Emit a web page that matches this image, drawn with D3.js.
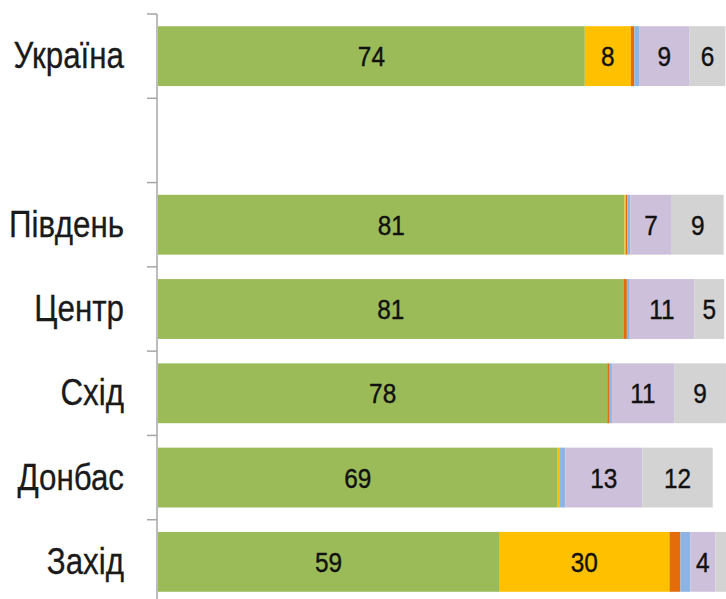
<!DOCTYPE html>
<html lang="uk">
<head>
<meta charset="utf-8">
<title>Регіони</title>
<script src="https://cdn.jsdelivr.net/npm/d3@7"></script>
<style>
  body { margin: 0; background: #fff; }
  text { font-family: "Liberation Sans", Arial, sans-serif; }
</style>
</head>
<body>
<div id="chart"></div>
<script>
// regions top to bottom ("" is the empty gap row)
var regions = ["Україна", "", "Південь", "Центр", "Схід", "Донбас", "Захід"];

// segment values per region, left to right
var green  = [74.1, 0, 81.0, 80.8, 78.0, 69.4, 59.2];
var yellow = [8.0,  0, 0.2,  0.0,  0.0,  0.4,  29.6];
var orange = [0.6,  0, 0.3,  0.6,  0.3,  0.0,  1.9];
var blue   = [0.8,  0, 0.5,  0.5,  0.5,  0.9,  1.7];
var lilac  = [8.8,  0, 7.2,  11.2, 10.8, 13.4, 4.4];
var grey   = [6.2,  0, 9.0,  5.2,  9.0,  12.2, 2.5];

var keys = ["green", "yellow", "orange", "blue", "lilac", "grey"];
var colors = ["#9bbb59", "#ffc000", "#e46c0a", "#8db4e2", "#ccc0da", "#d3d3d3"];

var w = 726, h = 599;

var rows = regions.map(function(r, i) {
  return {region: r, green: green[i], yellow: yellow[i], orange: orange[i],
          blue: blue[i], lilac: lilac[i], grey: grey[i]};
});

var x = d3.scaleLinear().domain([0, 100]).range([158, 734]);
var y = d3.scaleBand().domain(d3.range(regions.length))
  .range([14, 604]).paddingInner(0.29).paddingOuter(0.145);
var color = d3.scaleOrdinal().domain(keys).range(colors);

var svg = d3.select("#chart").append("svg")
  .attr("width", w).attr("height", h);

var stacked = d3.stack().keys(keys)(rows);

var layer = svg.selectAll("g.layer")
  .data(stacked)
  .enter().append("g")
  .attr("class", "layer")
  .attr("fill", function(d) { return color(d.key); });

layer.selectAll("rect")
  .data(function(d) { return d; })
  .enter().append("rect")
  .attr("x", function(d) { return x(d[0]); })
  .attr("y", function(d, i) { return y(i); })
  .attr("width", function(d) { return x(d[1]) - x(d[0]); })
  .attr("height", y.bandwidth());

// value labels
layer.selectAll("text")
  .data(function(d) { return d.filter(function(p) { return p[1] - p[0] >= 3; })
    .map(function(p) { return {p: p, i: rows.indexOf(p.data)}; }); })
  .enter().append("text")
  .attr("transform", function(d) {
    return "translate(" + x((d.p[0] + d.p[1]) / 2) + "," + (y(d.i) + y.bandwidth() / 2 + 10) + ") scale(0.87,1)";
  })
  .attr("text-anchor", "middle")
  .attr("font-size", 28)
  .attr("fill", "#111")
  .attr("stroke", "#111").attr("stroke-width", 0.4)
  .text(function(d) { return Math.round(d.p[1] - d.p[0]); });

// axis line and boundary ticks
var step = y.step();
var bounds = d3.range(regions.length + 1).map(function(i) { return 14 + i * step; });
svg.append("line")
  .attr("x1", 157).attr("x2", 157)
  .attr("y1", 14).attr("y2", h)
  .attr("stroke", "#a6a6a6").attr("stroke-width", 1.5);
svg.selectAll("line.tick")
  .data(bounds)
  .enter().append("line")
  .attr("class", "tick")
  .attr("x1", 147).attr("x2", 157)
  .attr("y1", function(d) { return d; })
  .attr("y2", function(d) { return d; })
  .attr("stroke", "#a6a6a6").attr("stroke-width", 1.5);

// region names
svg.selectAll("text.region")
  .data(regions)
  .enter().append("text")
  .attr("class", "region")
  .attr("transform", function(d, i) {
    return "translate(124," + (y(i) + y.bandwidth() / 2 + 12) + ") scale(0.87,1)";
  })
  .attr("text-anchor", "end")
  .attr("font-size", 36)
  .attr("fill", "#1a1a1a")
  .attr("stroke", "#1a1a1a").attr("stroke-width", 0.3)
  .text(function(d) { return d; });
</script>
</body>
</html>
